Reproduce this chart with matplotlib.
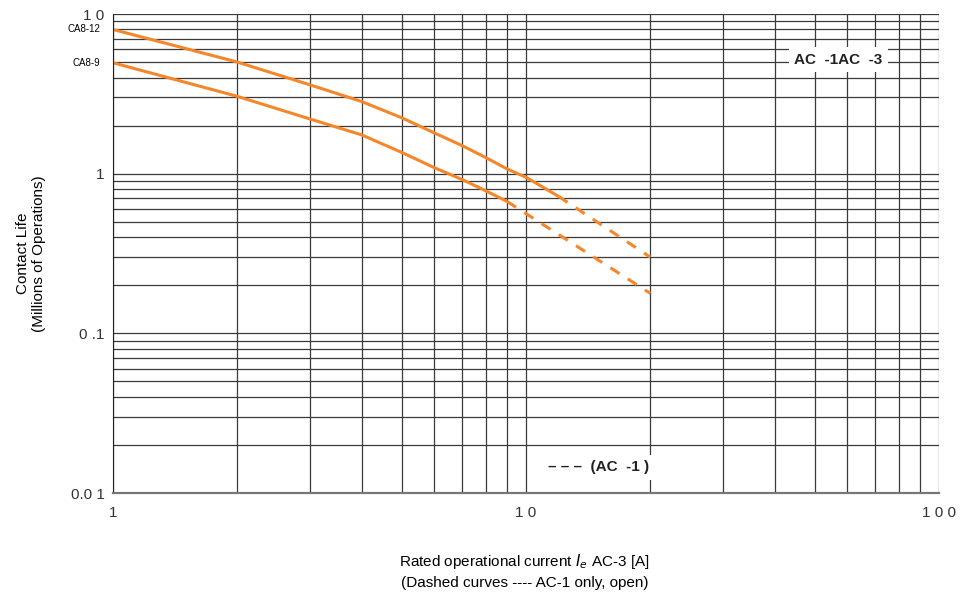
import numpy as np
import matplotlib
matplotlib.use("Agg")
from matplotlib import pyplot as plt

plt.rcParams['font.family'] = ['Liberation Sans', 'DejaVu Sans']

# CA8-12 curve (AC-3 solid, AC-1 dashed)
ca812_x = [1, 2, 3, 4, 5, 6, 7, 8, 9, 10, 12]
ca812_y = [8.0, 5.0, 3.6, 2.83, 2.24, 1.80, 1.50, 1.26, 1.07, 0.95, 0.72]
ca812_dash_x = [12, 20]
ca812_dash_y = [0.72, 0.30]

# CA8-9 curve
ca89_x = [1, 2, 3, 4, 5, 6, 7, 8, 9]
ca89_y = [4.95, 3.05, 2.2, 1.75, 1.36, 1.09, 0.92, 0.78, 0.67]
ca89_dash_x = [9, 20]
ca89_dash_y = [0.67, 0.178]

x_ticks = [1, 10, 100]
x_tick_labels = ['1', '1 0', '1 0 0']
y_ticks = [0.01, 0.1, 1, 10]
y_tick_labels = ['0.0 1', '0 .1', '1', '1 0']

orange = '#F5862A'
grid_col = '#3a3a3a'

fig = plt.figure(figsize=(9.75, 5.96), dpi=100)
ax = fig.add_axes([0.1159, 0.1728, 0.963 - 0.1159, 0.9765 - 0.1728])
ax.set_xscale('log')
ax.set_yscale('log')
ax.set_xlim(1, 100)
ax.set_ylim(0.01, 10)

ax.grid(True, which='both', color=grid_col, linewidth=0.9)
ax.set_axisbelow(True)

ax.plot(ca812_x, ca812_y, color=orange, lw=2.2, solid_capstyle='butt')
ax.plot(ca812_dash_x, ca812_dash_y, color=orange, lw=2.2, dashes=(3.5, 3.2))
ax.plot(ca89_x, ca89_y, color=orange, lw=2.2, solid_capstyle='butt')
ax.plot(ca89_dash_x, ca89_dash_y, color=orange, lw=2.2, dashes=(3.5, 3.2))

ax.set_xticks(x_ticks)
ax.set_xticklabels(x_tick_labels, fontsize=11, color='#333333')
ax.set_yticks(y_ticks)
ax.set_yticklabels(y_tick_labels, fontsize=11, color='#333333')
ax.tick_params(which='both', length=0, pad=6)
ax.tick_params(axis='x', pad=9)
ax.xaxis.set_minor_formatter(matplotlib.ticker.NullFormatter())
ax.yaxis.set_minor_formatter(matplotlib.ticker.NullFormatter())

for side in ['top', 'right']:
    ax.spines[side].set_visible(False)
ax.spines['left'].set_color('#222222')
ax.spines['bottom'].set_color('#777777')
ax.spines['bottom'].set_linewidth(1.6)

# curve name labels left of axis
ax.text(-0.015, 8.0, 'CA8-12', transform=ax.get_yaxis_transform(),
        ha='right', va='center', fontsize=7)
ax.text(-0.015, 4.95, 'CA8-9', transform=ax.get_yaxis_transform(),
        ha='right', va='center', fontsize=7)

ax.text(0.878, 0.904, 'AC  -1AC  -3', transform=ax.transAxes, ha='center', va='center',
        fontsize=11, fontweight='bold', color='#222222',
        bbox=dict(facecolor='white', edgecolor='none', pad=4))
ax.text(0.588, 0.054, '– – –  (AC  -1 )', transform=ax.transAxes, ha='center', va='center',
        fontsize=11, fontweight='bold', color='#222222',
        bbox=dict(facecolor='white', edgecolor='none', pad=4))

ax.set_ylabel('Contact Life\n(Millions of Operations)', fontsize=11, labelpad=18)
fig.text(0.538, 0.042, 'Rated operational current $I_e$ AC-3 [A]\n(Dashed curves ---- AC-1 only, open)',
         ha='center', va='center', fontsize=11, linespacing=1.5)

fig.savefig('out.png', dpi=100)
